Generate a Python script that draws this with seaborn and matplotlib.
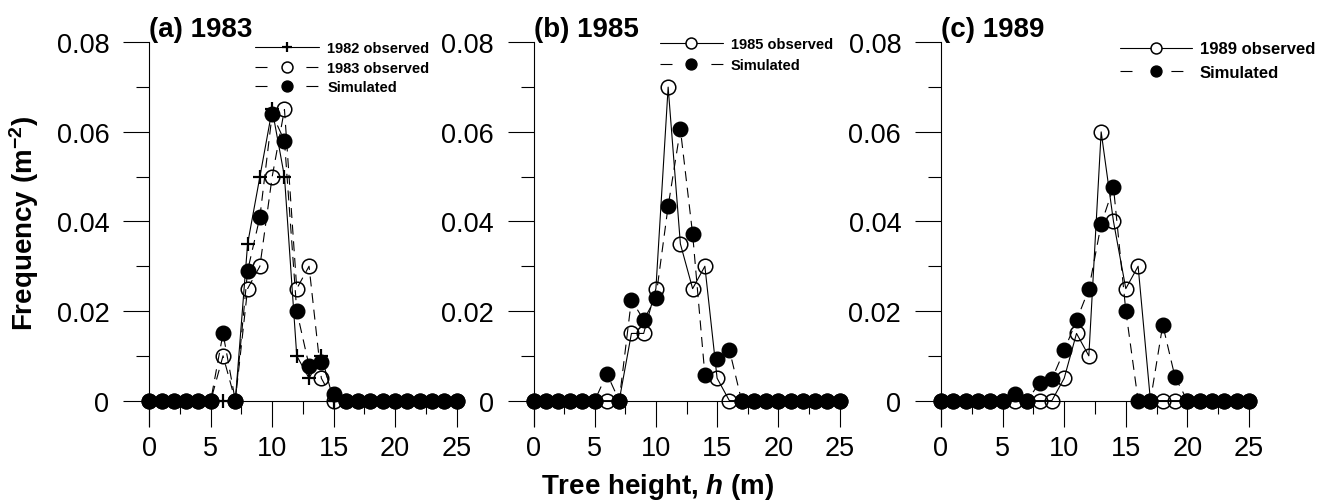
import matplotlib
matplotlib.use("Agg")
import matplotlib.pyplot as plt
from matplotlib.ticker import MultipleLocator, FixedLocator, FixedFormatter
import pandas as pd
import seaborn as sns

# Tree height classes (m)
heights = list(range(26))

# Frequency per height class (m^-2)
obs_1982 = [0, 0, 0, 0, 0, 0, 0, 0, 0.035, 0.050, 0.065, 0.050, 0.010, 0.005, 0.010, 0,
            0, 0, 0, 0, 0, 0, 0, 0, 0, 0]
obs_1983 = [0, 0, 0, 0, 0, 0, 0.010, 0, 0.025, 0.030, 0.050, 0.065, 0.025, 0.030, 0.005, 0,
            0, 0, 0, 0, 0, 0, 0, 0, 0, 0]
sim_1983 = [0, 0, 0, 0, 0, 0, 0.015, 0, 0.029, 0.041, 0.064, 0.058, 0.020, 0.0078, 0.0086, 0.0015,
            0, 0, 0, 0, 0, 0, 0, 0, 0, 0]
obs_1985 = [0, 0, 0, 0, 0, 0, 0, 0, 0.015, 0.015, 0.025, 0.070, 0.035, 0.025, 0.030, 0.005, 0,
            0, 0, 0, 0, 0, 0, 0, 0, 0]
sim_1985 = [0, 0, 0, 0, 0, 0, 0.006, 0, 0.0225, 0.018, 0.023, 0.0434, 0.0606, 0.0372, 0.0058, 0.0093,
            0.0114, 0, 0, 0, 0, 0, 0, 0, 0, 0]
obs_1989 = [0, 0, 0, 0, 0, 0, 0, 0, 0, 0, 0.005, 0.015, 0.010, 0.060, 0.040, 0.025, 0.030,
            0, 0, 0, 0, 0, 0, 0, 0, 0]
sim_1989 = [0, 0, 0, 0, 0, 0, 0.0015, 0, 0.004, 0.0048, 0.0112, 0.0179, 0.0249, 0.0394, 0.0476, 0.0201,
            0, 0, 0.0169, 0.0052, 0, 0, 0, 0, 0, 0]

panel_titles = ["(a) 1983", "(b) 1985", "(c) 1989"]
y_ticks = [0, 0.02, 0.04, 0.06, 0.08]
y_tick_labels = ["0", "0.02", "0.04", "0.06", "0.08"]
y_minor = [0.01, 0.03, 0.05, 0.07]

sns.set_style("ticks")
plt.rcParams["font.family"] = ["Liberation Sans", "DejaVu Sans"]
for key in ("text.color", "axes.labelcolor", "xtick.color", "ytick.color", "axes.edgecolor"):
    plt.rcParams[key] = "black"
plt.rcParams["mathtext.fontset"] = "custom"
plt.rcParams["mathtext.rm"] = "Liberation Sans"
plt.rcParams["mathtext.it"] = "Liberation Sans:italic"
plt.rcParams["mathtext.bf"] = "Liberation Sans:bold"
try:
    plt.rcParams["mathtext.bfit"] = "Liberation Sans:italic:bold"
    h_sym = r"$\mathbfit{h}$"
except KeyError:
    h_sym = r"$\mathit{h}$"

W, H = 1317, 502
fig = plt.figure(figsize=(W / 100, H / 100), dpi=100)

ax_bottom = 1 - 426.7 / H
ax_height = 383.4 / H
lefts = [149.3, 533.5, 941.0]
widths = [307.2, 306.0, 308.0]
axes = [fig.add_axes([l / W, ax_bottom, w / W, ax_height]) for l, w in zip(lefts, widths)]

DASH = (0, (9, 6))
LW = 0.8
open_solid = dict(linestyle="-", marker="o", markersize=10.5, markerfacecolor="none",
                  markeredgecolor="k", markeredgewidth=1.1)
open_dashed = dict(open_solid, linestyle=DASH)
plus_solid = dict(linestyle="-", marker="+", markersize=10, markeredgecolor="k",
                  markeredgewidth=1.6)
filled_dashed = dict(linestyle=DASH, marker="o", markersize=10.5, markerfacecolor="k",
                     markeredgecolor="k", markeredgewidth=1.0)

panels = [
    [("1982 observed", obs_1982, plus_solid),
     ("1983 observed", obs_1983, open_dashed),
     ("Simulated", sim_1983, filled_dashed)],
    [("1985 observed", obs_1985, open_solid),
     ("Simulated", sim_1985, filled_dashed)],
    [("1989 observed", obs_1989, open_solid),
     ("Simulated", sim_1989, filled_dashed)],
]

for ax, series in zip(axes, panels):
    for label, vals, style in series:
        df = pd.DataFrame({"h": heights, "freq": vals})
        sns.lineplot(data=df, x="h", y="freq", ax=ax, color="k", linewidth=LW,
                     estimator=None, clip_on=False, label=label, zorder=3, **style)

for ax, title in zip(axes, panel_titles):
    ax.set_xlim(0, 25)
    ax.set_ylim(-0.0056, 0.08)
    ax.spines["top"].set_visible(False)
    ax.spines["right"].set_visible(False)
    ax.spines["bottom"].set_position(("data", 0))
    for s in ("left", "bottom"):
        ax.spines[s].set_linewidth(0.8)
        ax.spines[s].set_zorder(1)
    ax.xaxis.set_major_locator(MultipleLocator(5))
    ax.xaxis.set_minor_locator(MultipleLocator(2.5))
    ax.yaxis.set_major_locator(FixedLocator(y_ticks))
    ax.yaxis.set_major_formatter(FixedFormatter(y_tick_labels))
    ax.yaxis.set_minor_locator(FixedLocator(y_minor))
    ax.tick_params(which="major", length=18.7, width=0.8, direction="out", labelsize=19.5)
    ax.tick_params(which="minor", length=9.4, width=0.8, direction="out")
    ax.tick_params(axis="y", which="major", pad=10)
    ax.tick_params(axis="x", which="major", pad=6)
    ax.set_xlabel("")
    ax.set_ylabel("")
    ax.text(0, 1 + 6 / 383.4, title, transform=ax.transAxes, ha="left", va="baseline",
            fontsize=20, fontweight="bold")

# Legends: (axes, upper-left anchor in px, font size, handle length, text pad, row spacing)
legend_specs = [
    (axes[0], (255, 42.0), 10.5, 4.4, 0.55, 0.39),
    (axes[1], (660, 38.0), 10.5, 4.3, 0.55, 0.51),
    (axes[2], (1120, 42.5), 12.0, 4.3, 0.48, 0.50),
]
for ax, (px, py), fs, hl, htp, ls in legend_specs:
    leg = ax.legend(loc="upper left", bbox_to_anchor=(px / W, 1 - py / H),
                    bbox_transform=fig.transFigure, frameon=False,
                    prop={"weight": "bold", "size": fs}, handlelength=hl,
                    handletextpad=htp, labelspacing=ls, borderpad=0, borderaxespad=0,
                    markerscale=0.75)
    for line, text in zip(leg.get_lines(), leg.get_texts()):
        if line.get_linestyle() != "-":
            line.set_linestyle((0, (10.8, 35)))
        if line.get_marker() == "o" and line.get_markerfacecolor() == "none" \
                and text.get_text() != "1983 observed":
            line.set_markerfacecolor("white")

fig.text(24 / W, 1 - 224 / H, r"Frequency (m$^{\mathbf{-2}}$)", rotation=90,
         ha="center", va="center", fontsize=20, fontweight="bold")
fig.text(658 / W, 1 - 487 / H, "Tree height, " + h_sym + " (m)", ha="center",
         va="center", fontsize=20, fontweight="bold")

fig.savefig("out.png", dpi=100)
